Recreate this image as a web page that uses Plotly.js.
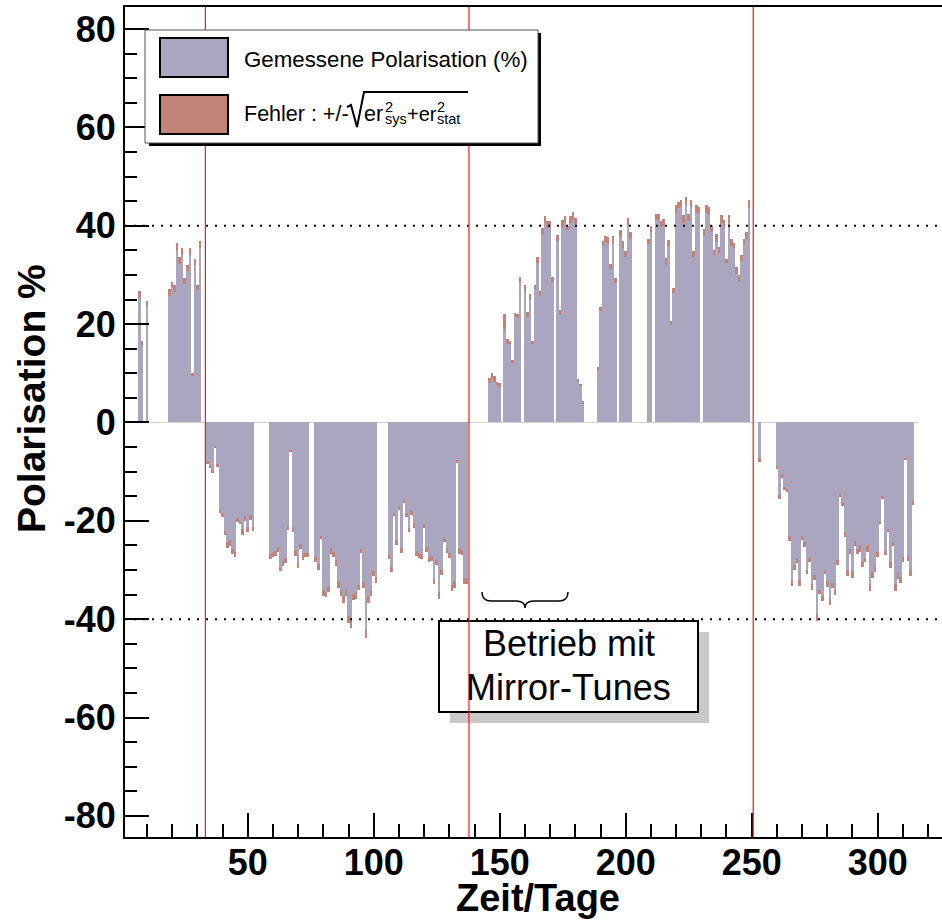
<!DOCTYPE html>
<html>
<head>
<meta charset="utf-8">
<script src="https://cdn.plot.ly/plotly-3.0.1.min.js"></script>
<style>
html, body { margin:0; padding:0; overflow:hidden; background:#fff; }
#chart { width:960px; height:920px; }
</style>
</head>
<body>
<div id="chart"></div>
<script>
// ---------- data ----------
const tage = [
  7,8,10,19,20,21,22,23,24,25,26,27,28,29,30,31,
  34,35,36,37,38,39,40,41,42,43,44,45,46,47,48,49,50,51,52,
  59,60,61,62,63,64,65,66,67,68,69,70,71,72,73,74,
  77,78,79,80,81,82,83,84,85,86,87,88,89,90,91,92,93,94,95,96,97,98,99,100,101,
  106,107,108,109,110,111,112,113,114,115,116,117,118,119,120,121,122,123,124,125,126,127,128,129,130,131,132,133,134,135,136,137,
  146,147,148,149,150,152,153,154,155,156,157,158,160,161,162,163,164,165,166,167,168,169,170,171,173,174,175,176,177,178,179,180,181,182,183,
  189,190,191,192,193,194,195,196,198,199,200,201,202,209,210,
  212,213,214,215,216,217,218,219,220,221,222,223,224,225,226,227,228,229,231,232,233,234,235,236,237,238,239,240,241,242,243,244,245,246,247,248,249,
  253,260,261,262,263,264,265,266,267,268,269,270,271,272,273,274,275,276,277,278,279,280,281,282,283,284,285,286,287,288,289,290,291,292,293,294,295,296,297,298,299,300,301,302,303,304,305,306,307,308,309,310,311,312,313,314
];
const polarisation = [
  26.0,16.1,24.1,26.5,28.1,27.2,35.8,33.0,34.8,28.8,31.5,34.8,9.7,32.6,27.5,36.2,
  -8.2,-8.9,-9.9,-5.0,-8.7,-18.1,-18.8,-22.4,-24.9,-24.5,-26.3,-26.8,-19.8,-20.3,-22.2,-19.6,-21.8,-19.4,-21.6,
  -27.2,-26.9,-26.6,-25.8,-29.8,-28.7,-28.0,-21.5,-5.8,-21.8,-26.5,-29.0,-25.2,-27.5,-27.0,-27.0,
  -27.8,-29.4,-23.4,-34.6,-35.0,-33.8,-26.1,-26.8,-28.6,-33.0,-34.6,-36.0,-34.7,-40.0,-41.0,-35.5,-35.1,-33.5,-26.2,-33.1,-43.0,-36.0,-34.6,-30.7,-32.0,
  -27.3,-29.9,-18.8,-24.4,-17.3,-26.1,-15.9,-18.9,-21.9,-18.5,-21.0,-26.7,-27.0,-27.2,-21.0,-25.9,-27.8,-27.6,-32.4,-28.4,-35.1,-30.5,-23.9,-26.1,-27.1,-33.6,-33.0,-7.9,-26.2,-26.5,-32.2,-32.2,
  8.6,9.5,8.8,8.0,7.7,20.6,16.5,16.3,12.4,21.9,21.6,28.9,27.4,21.9,25.5,16.3,27.6,33.0,26.3,39.0,41.3,40.2,40.2,29.1,37.5,22.4,40.4,41.2,39.6,41.3,42.1,40.8,8.6,7.6,4.1,
  10.9,23.1,36.4,37.4,37.0,31.7,37.2,28.9,38.5,36.2,34.3,40.8,38.0,36.8,39.4,
  41.8,41.8,40.3,40.6,32.8,36.5,20.2,26.9,43.5,44.3,44.5,41.4,45.0,41.7,44.5,34.3,43.5,43.2,38.7,43.5,43.0,39.5,34.6,37.6,35.0,41.4,40.5,32.8,41.4,36.6,36.0,30.9,29.3,33.5,36.7,38.0,44.5,
  -7.7,-9.1,-15.2,-10.9,-13.4,-13.8,-23.6,-32.6,-29.5,-28.1,-32.6,-23.5,-24.9,-30.4,-28.0,-33.5,-31.5,-39.6,-34.5,-35.8,-30.4,-32.8,-36.5,-33.1,-34.4,-28.4,-14.9,-16.6,-22.8,-30.6,-26.3,-30.9,-24.6,-26.3,-25.6,-28.9,-28.0,-25.6,-33.5,-31.1,-29.9,-26.8,-20.4,-15.3,-26.6,-22.0,-28.9,-24.8,-33.5,-31.2,-32.1,-27.8,-7.4,-27.7,-30.6,-16.4
];
const fehler = [
  0.7,0.5,0.6,0.7,0.5,0.7,0.7,0.7,0.7,0.6,0.6,0.7,0.3,0.6,0.5,0.7,
  0.3,0.3,0.3,0.2,0.3,0.4,0.4,0.4,0.6,0.6,0.5,0.5,0.4,0.3,0.6,0.5,0.5,0.5,0.4,
  0.5,0.5,0.5,0.5,0.5,0.5,0.5,0.4,0.2,0.5,0.6,0.5,0.5,0.5,0.4,0.4,
  0.5,0.6,0.35,0.6,0.5,0.6,0.6,0.5,0.6,0.7,0.6,0.7,0.6,0.7,0.8,0.6,0.7,0.5,0.4,0.6,0.8,0.7,0.6,0.6,0.6,
  0.5,0.6,0.3,0.5,0.4,0.5,0.4,0.4,0.4,0.4,0.5,0.5,0.5,0.5,0.4,0.5,0.5,0.5,0.5,0.5,0.7,0.5,0.4,0.5,0.5,0.6,0.6,0.3,0.5,0.5,0.6,0.6,
  0.5,0.6,0.6,0.3,0.4,1.5,0.5,0.3,0.3,0.3,0.4,0.6,0.6,0.5,0.6,0.3,0.4,0.6,0.5,0.65,0.7,0.7,0.7,0.45,0.6,0.5,0.7,0.7,0.45,0.7,0.7,0.7,0.3,0.2,0.3,
  0.4,0.4,0.6,0.6,0.7,0.5,0.7,0.5,0.7,0.7,0.6,0.8,0.7,0.6,0.6,
  0.7,0.7,0.6,0.7,0.7,0.6,0.4,0.5,0.8,0.6,0.7,0.8,0.8,0.7,0.7,0.6,0.8,0.6,0.7,0.8,0.8,0.7,0.5,0.8,0.6,0.8,0.7,0.4,0.8,0.7,0.6,0.7,0.7,0.6,0.6,0.7,0.7,
  0.4,0.3,0.4,0.4,0.3,0.3,0.5,0.6,0.5,0.5,0.6,0.4,0.5,0.5,0.4,0.6,0.5,0.7,0.4,0.6,0.5,0.6,0.6,0.5,0.6,0.5,0.3,0.4,0.5,0.6,0.5,0.7,0.6,0.5,0.7,0.5,0.4,0.7,0.7,0.6,0.6,0.5,0.3,0.3,0.4,0.3,0.6,0.4,0.7,0.6,0.6,0.5,0.2,0.5,0.6,0.4
];
const umschaltTage = [33.2, 137.8, 250.6];      // red vertical markers
const referenzNiveaus = [40, -40];               // dotted reference lines
const xTickVals = [50, 100, 150, 200, 250, 300];
const xTickText = ['50', '100', '150', '200', '250', '300'];
const yTickVals = [-80, -60, -40, -20, 0, 20, 40, 60, 80];
const yTickText = ['-80', '-60', '-40', '-20', '0', '20', '40', '60', '80'];
const legendTexte = ['Gemessene Polarisation (%)', 'Fehler : +/-'];
const boxTexte = ['Betrieb mit', 'Mirror-Tunes'];
const achsenTitel = ['Zeit/Tage', 'Polarisation %'];

// ---------- styling / geometry ----------
const LAV = '#aaa6c0', BRN = '#c0847a';
const FONT = 'Liberation Sans, Arial, Helvetica, sans-serif';
const M = {l:125, r:10, t:7, b:83};
const W = 960, H = 920;
const PW = W - M.l - M.r, PH = H - M.t - M.b;
const px = x => (x - M.l) / PW;
const py = y => (H - M.b - y) / PH;
const P = (x, y) => px(x).toFixed(5) + ',' + py(y).toFixed(5);

if (tage.length !== polarisation.length || tage.length !== fehler.length) {
  console.error('length mismatch', tage.length, polarisation.length, fehler.length);
}

const traces = [
  { type:'bar', x:tage, y:polarisation, width:1, marker:{color:LAV, line:{width:0}}, name:legendTexte[0], hoverinfo:'skip' },
  { type:'bar', x:tage, y:fehler.map(e => 2*e), base:polarisation.map((v, i) => v - fehler[i]),
    width:1, marker:{color:BRN, line:{width:0}}, name:'Fehler', hoverinfo:'skip' }
];

const shapes = [];
// zero baseline of histogram
shapes.push({type:'line', xref:'x', yref:'y', x0:1.3, x1:316, y0:0, y1:0, line:{color:'#dccccc', width:1}, layer:'below'});
// dotted reference lines
referenzNiveaus.forEach(lv => shapes.push({type:'line', xref:'paper', yref:'y', x0:0, x1:1, y0:lv, y1:lv,
  line:{color:'black', width:2, dash:'2px,7px'}}));
// annotation box with stipple shadow
shapes.push({type:'rect', xref:'paper', yref:'paper', x0:px(450), x1:px(709), y0:py(632), y1:py(723), fillcolor:'#c9c9c9', line:{width:0}});
shapes.push({type:'rect', xref:'paper', yref:'paper', x0:px(439), x1:px(698), y0:py(621), y1:py(712), fillcolor:'white', line:{color:'black', width:2}});
// curly brace
shapes.push({type:'path', xref:'paper', yref:'paper', line:{color:'black', width:1.5},
  path:'M' + P(482,592) + ' Q' + P(482,601) + ' ' + P(491,601) + ' L' + P(516,601) + ' Q' + P(525,601) + ' ' + P(525,608) +
       ' Q' + P(525,601) + ' ' + P(534,601) + ' L' + P(559,601) + ' Q' + P(568,601) + ' ' + P(568,592)});
// red vertical lines
umschaltTage.forEach(d => shapes.push({type:'line', xref:'x', yref:'paper', x0:d, x1:d, y0:0, y1:1, line:{color:'#ee1c1c', width:1.2}}));
// legend
shapes.push({type:'rect', xref:'paper', yref:'paper', x0:px(149), x1:px(541), y0:py(33), y1:py(146), fillcolor:'black', line:{width:0}});
shapes.push({type:'rect', xref:'paper', yref:'paper', x0:px(145), x1:px(538), y0:py(30), y1:py(143), fillcolor:'white', line:{color:'#555', width:1}});
shapes.push({type:'rect', xref:'paper', yref:'paper', x0:px(160), x1:px(228), y0:py(38), y1:py(77), fillcolor:LAV, line:{color:'black', width:2}});
shapes.push({type:'rect', xref:'paper', yref:'paper', x0:px(160), x1:px(228), y0:py(95), y1:py(134), fillcolor:BRN, line:{color:'black', width:2}});
// radical sign
shapes.push({type:'path', xref:'paper', yref:'paper', line:{color:'black', width:2},
  path:'M' + P(347,107) + ' L' + P(351,105) + ' L' + P(357,127) + ' L' + P(364,92) + ' L' + P(468,92)});

const ann = (x, y, text, size, anchor, extra) => Object.assign({xref:'paper', yref:'paper', x:px(x), y:py(y), text:text, showarrow:false,
  xanchor:anchor || 'left', yanchor:'middle', font:{family:FONT, size:size, color:'black'}, borderpad:0, borderwidth:0}, extra || {});

const annotations = [
  ann(244, 59.5, legendTexte[0], 22.3),
  ann(244, 113.5, legendTexte[1], 21.5),
  ann(364, 113.5, 'er', 21.5),
  ann(385, 107, '2', 14.5),
  ann(385, 119, 'sys', 14.5),
  ann(407, 113.5, '+er', 20),
  ann(437, 107, '2', 14.5),
  ann(437, 119, 'stat', 14.5),
  ann(568.5, 643.8, boxTexte[0], 36, 'center'),
  ann(568.5, 687.8, boxTexte[1], 36, 'center'),
  // axis titles, placed to match the reference's offsets
  ann(537.5, 897.5, achsenTitel[0], 38, 'center', {font:{family:FONT, size:38, weight:'bold', color:'black'}}),
  ann(31, 399, achsenTitel[1], 39, 'center', {textangle:-90, font:{family:FONT, size:39, weight:'bold', color:'black'}})
];

const axisCommon = {
  ticks:'inside', ticklen:24, tickwidth:2, tickcolor:'black',
  showline:true, linewidth:2, linecolor:'black', mirror:true,
  showgrid:false, zeroline:false, tickmode:'array',
  tickfont:{family:FONT, size:36, weight:'bold', color:'black'}
};

const layout = {
  width:W, height:H, margin:{l:M.l, r:M.r, t:M.t, b:M.b, pad:0},
  paper_bgcolor:'white', plot_bgcolor:'white', showlegend:false,
  barmode:'overlay', bargap:0, hovermode:false,
  font:{family:FONT, color:'black'},
  xaxis: Object.assign({}, axisCommon, {
    range:[1.3, 328.7], tickvals:xTickVals, ticktext:xTickText, ticklabelstandoff:-7,
    minor:{tickmode:'linear', tick0:0, dtick:10, ticks:'inside', ticklen:13, tickwidth:2, tickcolor:'black', showgrid:false},
    title:{text:''}
  }),
  yaxis: Object.assign({}, axisCommon, {
    range:[-84.3, 84.5], tickvals:yTickVals, ticktext:yTickText,
    minor:{tickmode:'linear', tick0:0, dtick:5, ticks:'inside', ticklen:12, tickwidth:2, tickcolor:'black', showgrid:false},
    title:{text:''}
  }),
  shapes:shapes,
  annotations:annotations
};

Plotly.newPlot('chart', traces, layout, {staticPlot:true, displayModeBar:false});
</script>
</body>
</html>
